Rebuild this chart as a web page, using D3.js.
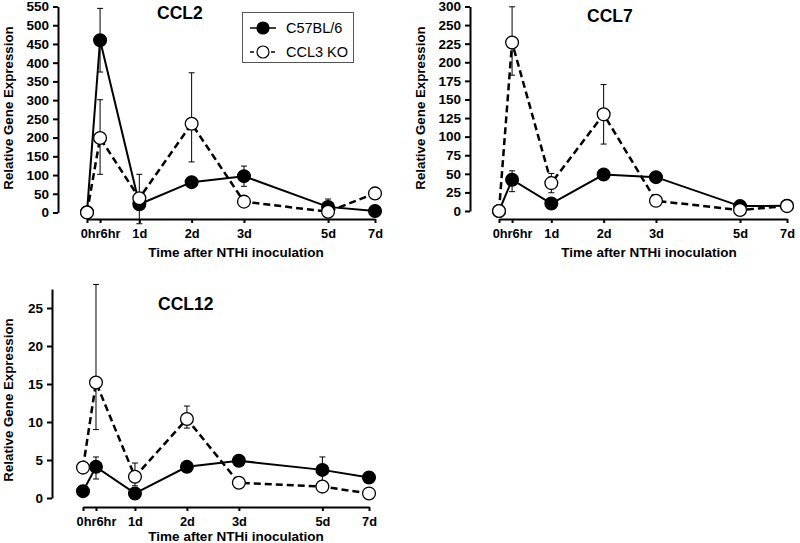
<!DOCTYPE html>
<html>
<head>
<meta charset="utf-8">
<script src="https://cdn.jsdelivr.net/npm/d3@7"></script>
<style>
  body { margin: 0; background: #fff; }
  svg { display: block; font-family: "Liberation Sans", Arial, sans-serif; }
</style>
</head>
<body>
<script>
// time points (days) and their labels
var times = [0, 0.25, 1, 2, 3, 5, 7];
var timeLabels = ["0hr", "6hr", "1d", "2d", "3d", "5d", "7d"];

// CCL2
var ccl2Wt = [1, 460, 22, 81, 97, 15, 4];
var ccl2WtErr = [[0, 0], [85, 85], [0, 0], [12, 12], [27, 27], [21, 21], [0, 0]];
var ccl2Ko = [0, 199, 38, 237, 29, 2, 51];
var ccl2KoErr = [[0, 0], [97, 102], [68, 64], [102, 136], [13, 13], [0, 0], [0, 0]];
var ccl2Ticks = [0, 50, 100, 150, 200, 250, 300, 350, 400, 450, 500, 550];

// CCL7
var ccl7Wt = [0, 42, 10, 49, 45.5, 6.6, 7];
var ccl7WtErr = [[0, 0], [16, 12], [0, 0], [5, 5], [4, 4], [0, 0], [0, 0]];
var ccl7Ko = [0, 226.6, 37.5, 130, 13.7, 1.3, 6.6];
var ccl7KoErr = [[0, 0], [44, 48], [13, 13], [40, 40], [3, 3], [0, 0], [0, 0]];
var ccl7Ticks = [0, 25, 50, 75, 100, 125, 150, 175, 200, 225, 250, 275];
var ccl7TickLabels = ["0", "25", "50", "75", "100", "125", "150", "175", "200", "225", "250", "300"];

// CCL12
var ccl12Wt = [0.9, 4.1, 0.6, 4.1, 4.9, 3.7, 2.7];
var ccl12WtErr = [[0, 0], [1.6, 1.3], [0, 0], [0.5, 0.5], [0.3, 0.3], [1.7, 1.7], [0.4, 0.4]];
var ccl12Ko = [4.0, 15.2, 2.8, 10.4, 2.0, 1.5, 0.6];
var ccl12KoErr = [[0.5, 0.5], [6.2, 12.9], [1.2, 1.8], [1.2, 1.7], [0, 0], [0.4, 0.4], [0, 0]];
var ccl12Ticks = [0, 5, 10, 15, 20, 25];

var width = 800;
var height = 543;

var svg = d3.select("body")
  .append("svg")
  .attr("width", width)
  .attr("height", height);

function drawPanel(p) {
  // uneven time axis: 0-3d linear, then compressed
  var x = d3.scaleLinear()
    .domain([0, 3, 5, 7])
    .range([p.x0, p.x0 + 0.545 * p.w, p.x0 + 0.837 * p.w, p.x0 + p.w]);
  var y = d3.scaleLinear()
    .domain([0, p.yMax])
    .range([p.yBottom, p.yTop]);

  var g = svg.append("g");

  // y axis
  var yAxis = d3.axisLeft(y)
    .tickValues(p.yTicks)
    .tickFormat(function (d, i) { return p.yLabels ? p.yLabels[i] : d; })
    .tickSize(5)
    .tickSizeOuter(0)
    .tickPadding(4);
  var ya = g.append("g")
    .attr("transform", "translate(" + p.yAxisX + ",0)")
    .call(yAxis);
  ya.select(".domain").attr("stroke", "#000").attr("stroke-width", 2);
  ya.selectAll(".tick line").attr("stroke", "#000").attr("stroke-width", 2);
  ya.selectAll(".tick text")
    .attr("fill", "#000")
    .style("font-size", "13.5px")
    .style("font-weight", "bold");

  // x axis
  var xAxis = d3.axisBottom(x)
    .tickValues(times)
    .tickFormat(function (d, i) { return timeLabels[i]; })
    .tickSize(4)
    .tickSizeOuter(0)
    .tickPadding(5.5);
  var xa = g.append("g")
    .attr("transform", "translate(0," + p.xAxisY + ")")
    .call(xAxis);
  xa.select(".domain").attr("stroke", "#000").attr("stroke-width", 2);
  xa.selectAll(".tick line").attr("stroke", "#000").attr("stroke-width", 2);
  xa.selectAll(".tick text")
    .attr("fill", "#000")
    .style("font-size", "12.8px")
    .style("font-weight", "bold");
  // 0hr and 6hr labels sit side by side around the 6hr tick
  xa.selectAll(".tick text")
    .filter(function (d) { return d === 0; })
    .attr("text-anchor", "end")
    .attr("x", x(0.25) - x(0));
  xa.selectAll(".tick text")
    .filter(function (d) { return d === 0.25; })
    .attr("text-anchor", "start")
    .attr("x", 0);

  // axis titles
  g.append("text")
    .attr("transform", "translate(" + p.yTitleX + "," + p.yTitleY + ") rotate(-90)")
    .attr("text-anchor", "middle")
    .style("font-size", "13.3px")
    .style("font-weight", "bold")
    .text("Relative Gene Expression");
  g.append("text")
    .attr("x", p.xTitleX)
    .attr("y", p.xTitleY)
    .attr("text-anchor", "middle")
    .style("font-size", "13.5px")
    .style("font-weight", "bold")
    .text("Time after NTHi inoculation");

  // panel title
  g.append("text")
    .attr("x", p.titleX)
    .attr("y", p.titleY)
    .style("font-size", "17.5px")
    .style("font-weight", "bold")
    .text(p.title);

  var line = d3.line()
    .x(function (d, i) { return x(times[i]); })
    .y(function (d) { return y(d); });

  g.append("path")
    .datum(p.wt)
    .attr("d", line)
    .attr("fill", "none")
    .attr("stroke", "#000")
    .attr("stroke-width", 2);
  g.append("path")
    .datum(p.ko)
    .attr("d", line)
    .attr("fill", "none")
    .attr("stroke", "#000")
    .attr("stroke-width", 2.5)
    .attr("stroke-dasharray", "7,4");

  // error bars
  [[p.wt, p.wtErr], [p.ko, p.koErr]].forEach(function (s) {
    var vals = s[0], errs = s[1];
    vals.forEach(function (v, i) {
      var lo = errs[i][0], hi = errs[i][1];
      if (lo === 0 && hi === 0) return;
      var cx = x(times[i]);
      var eb = g.append("g").attr("stroke", "#000").attr("stroke-width", 1);
      eb.append("line").attr("x1", cx).attr("x2", cx)
        .attr("y1", y(v - lo)).attr("y2", y(v + hi));
      eb.append("line").attr("x1", cx - 3).attr("x2", cx + 3)
        .attr("y1", y(v + hi)).attr("y2", y(v + hi));
      eb.append("line").attr("x1", cx - 3).attr("x2", cx + 3)
        .attr("y1", y(v - lo)).attr("y2", y(v - lo));
    });
  });

  g.selectAll(".wt")
    .data(p.wt)
    .enter()
    .append("circle")
    .attr("cx", function (d, i) { return x(times[i]); })
    .attr("cy", function (d) { return y(d); })
    .attr("r", 6.4)
    .attr("fill", "#000")
    .attr("stroke", "#000")
    .attr("stroke-width", 1.2);
  g.selectAll(".ko")
    .data(p.ko)
    .enter()
    .append("circle")
    .attr("cx", function (d, i) { return x(times[i]); })
    .attr("cy", function (d) { return y(d); })
    .attr("r", 6.4)
    .attr("fill", "#fff")
    .attr("stroke", "#000")
    .attr("stroke-width", 1.3);
}

drawPanel({
  title: "CCL2", titleX: 157, titleY: 18.5,
  wt: ccl2Wt, wtErr: ccl2WtErr, ko: ccl2Ko, koErr: ccl2KoErr,
  yMax: 550, yTicks: ccl2Ticks,
  x0: 87, w: 288, yAxisX: 58, yTop: 6.5, yBottom: 212.5, xAxisY: 219,
  yTitleX: 12.5, yTitleY: 108, xTitleX: 236, xTitleY: 257
});

drawPanel({
  title: "CCL7", titleX: 587, titleY: 21.7,
  wt: ccl7Wt, wtErr: ccl7WtErr, ko: ccl7Ko, koErr: ccl7KoErr,
  yMax: 275, yTicks: ccl7Ticks, yLabels: ccl7TickLabels,
  x0: 499, w: 288, yAxisX: 470, yTop: 6.5, yBottom: 211, xAxisY: 219,
  yTitleX: 424.5, yTitleY: 108, xTitleX: 649, xTitleY: 257
});

drawPanel({
  title: "CCL12", titleX: 158, titleY: 310,
  wt: ccl12Wt, wtErr: ccl12WtErr, ko: ccl12Ko, koErr: ccl12KoErr,
  yMax: 27.5, yTicks: ccl12Ticks,
  x0: 83, w: 286, yAxisX: 52, yTop: 289, yBottom: 498, xAxisY: 507,
  yTitleX: 12.5, yTitleY: 400, xTitleX: 236, xTitleY: 541
});

// legend
var legend = svg.append("g");
legend.append("rect")
  .attr("x", 242.5).attr("y", 12.5)
  .attr("width", 111).attr("height", 50)
  .attr("fill", "#fff")
  .attr("stroke", "#555")
  .attr("stroke-width", 1);
var legendItems = [
  { label: "C57BL/6", fill: "#000", dash: null },
  { label: "CCL3 KO", fill: "#fff", dash: "4,3" }
];
legendItems.forEach(function (d, i) {
  var ly = 28 + i * 24;
  legend.append("line")
    .attr("x1", 250).attr("x2", 276)
    .attr("y1", ly).attr("y2", ly)
    .attr("stroke", "#000")
    .attr("stroke-width", 1.5)
    .attr("stroke-dasharray", d.dash);
  legend.append("circle")
    .attr("cx", 263).attr("cy", ly).attr("r", 6)
    .attr("fill", d.fill)
    .attr("stroke", "#000")
    .attr("stroke-width", 1.2);
  legend.append("text")
    .attr("x", 286).attr("y", ly + 5)
    .style("font-size", "14.5px")
    .text(d.label);
});
</script>
</body>
</html>
